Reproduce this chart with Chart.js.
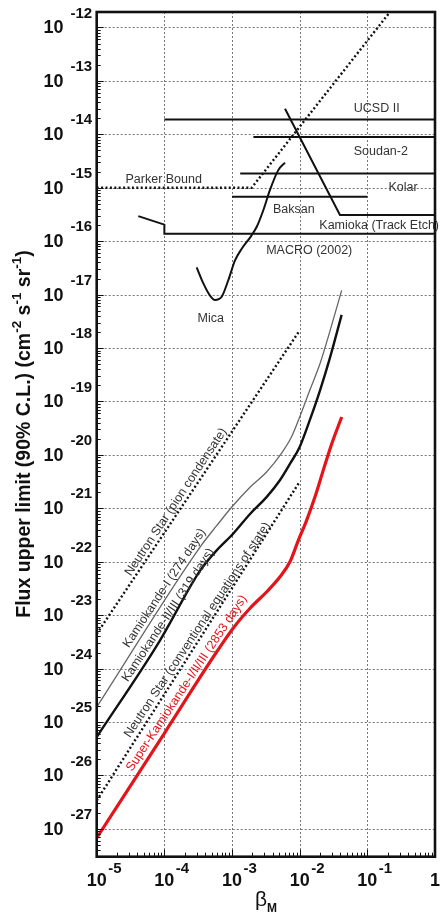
<!DOCTYPE html>
<html>
<head>
<meta charset="utf-8">
<script src="https://cdn.jsdelivr.net/npm/chart.js@4.4.1/dist/chart.umd.min.js"></script>
<style>
  html, body { margin: 0; padding: 0; background: #fff; }
  #wrap { width: 442px; height: 915px; position: relative; }
</style>
</head>
<body>
<div id="wrap"><canvas id="fluxChart"></canvas></div>
<script>
// decade ticks on both axes
const xTicks = [1e-5, 1e-4, 1e-3, 1e-2, 1e-1, 1];
const xTickExp = ['-5', '-4', '-3', '-2', '-1', ''];
const yTicks = [1e-12, 1e-13, 1e-14, 1e-15, 1e-16, 1e-17, 1e-18, 1e-19,
                1e-20, 1e-21, 1e-22, 1e-23, 1e-24, 1e-25, 1e-26, 1e-27];
const yTickExp = ['-12', '-13', '-14', '-15', '-16', '-17', '-18', '-19',
                  '-20', '-21', '-22', '-23', '-24', '-25', '-26', '-27'];

// earlier searches
const parkerX = [1e-5, 1.95e-3, 0.216];
const parkerY = [1e-15, 1e-15, 1.95e-12];
const ucsdX = [1e-4, 1];
const ucsdY = [1.9e-14, 1.9e-14];
const soudanX = [2.07e-3, 1];
const soudanY = [8.9e-15, 8.9e-15];
const kolarX = [1.32e-3, 1];
const kolarY = [1.86e-15, 1.86e-15];
const baksanX = [1e-3, 0.1];
const baksanY = [6.76e-16, 6.76e-16];
const kamiokaX = [6.07e-3, 3.94e-2, 1];
const kamiokaY = [3.02e-14, 3.09e-16, 3.09e-16];
const macroX = [4.12e-5, 1e-4, 1e-4, 1];
const macroY = [2.95e-16, 2.04e-16, 1.38e-16, 1.38e-16];
const micaX = [3.0e-4, 3.77e-4, 4.73e-4, 5.58e-4, 7.03e-4, 8.81e-4, 1.107e-3,
               1.39e-3, 1.845e-3, 2.32e-3, 2.90e-3, 3.64e-3, 4.83e-3, 6.07e-3];
const micaY = [3.24e-17, 1.62e-17, 9.55e-18, 7.94e-18, 9.12e-18, 1.86e-17, 4.37e-17,
               7.24e-17, 1.17e-16, 1.86e-16, 3.80e-16, 9.12e-16, 2.14e-15, 2.95e-15];

// neutron star bounds
const nsPionX = [1e-5, 1e-2];
const nsPionY = [4.47e-24, 2.14e-18];
const nsConvX = [1e-5, 1e-2];
const nsConvY = [3.39e-27, 3.16e-21];

// Kamiokande / Super-Kamiokande limits
const kam1X = [1e-5, 3.39e-4, 5.89e-4, 1e-3, 1.86e-3, 3.24e-3, 5.37e-3, 7.59e-3,
               1e-2, 1.41e-2, 2.0e-2, 2.82e-2, 4.17e-2];
const kam1Y = [1.91e-25, 1.91e-22, 4.68e-22, 1.07e-21, 2.51e-21, 4.79e-21, 1.07e-20, 2.19e-20,
               5.13e-20, 1.62e-19, 5.13e-19, 2.14e-18, 1.20e-17];
const kam23X = [1e-5, 8.63e-5, 2.40e-4, 3.39e-4, 5.89e-4, 1.047e-3, 1.86e-3, 3.24e-3,
                5.13e-3, 7.24e-3, 1e-2, 1.41e-2, 2.0e-2, 2.82e-2, 4.17e-2];
const kam23Y = [5.25e-26, 3.39e-24, 3.39e-23, 6.92e-23, 1.62e-22, 3.39e-22, 7.94e-22, 1.62e-21,
                3.39e-21, 6.92e-21, 1.41e-20, 4.47e-20, 1.62e-19, 6.76e-19, 4.17e-18];
const skX = [1e-5, 1e-4, 1.045e-3, 1.845e-3, 3.26e-3, 5.12e-3, 7.19e-3, 9.55e-3,
             1.27e-2, 1.69e-2, 2.24e-2, 2.98e-2, 4.18e-2];
const skY = [6.76e-28, 6.17e-26, 5.75e-24, 1.35e-23, 2.75e-23, 5.25e-23, 1.0e-22, 2.51e-22,
             6.03e-22, 1.66e-21, 5.25e-21, 1.62e-20, 5.13e-20];

const FONT = '"Liberation Sans", Arial, sans-serif';

function pts(xs, ys) {
    return xs.map((x, i) => ({ x: x, y: ys[i] }));
}

function series(xs, ys, style) {
    return Object.assign({
        data: pts(xs, ys),
        borderColor: '#111',
        borderWidth: 2,
        pointRadius: 0,
        fill: false,
        tension: 0
    }, style);
}

const dotted = { borderDash: [2, 2.4], borderWidth: 2.4, borderCapStyle: 'butt' };
const smooth = { cubicInterpolationMode: 'monotone' };

// plain text labels next to the lines
const textLabels = [
    { text: 'UCSD II', x: 376.7, y: 108.5 },
    { text: 'Soudan-2', x: 380.8, y: 152 },
    { text: 'Kolar', x: 403, y: 188 },
    { text: 'Parker Bound', x: 163.7, y: 180 },
    { text: 'Baksan', x: 293.8, y: 210 },
    { text: 'Kamioka (Track Etch)', x: 319.3, y: 226, align: 'left' },
    { text: 'MACRO (2002)', x: 309.2, y: 251 },
    { text: 'Mica', x: 210.8, y: 319 }
];
// labels running along the sloped curves
const slopedLabels = [
    { text: 'Neutron Star (pion condensate)', x: 176, y: 502, color: '#333' },
    { text: 'Kamiokande-I (274 days)', x: 164.5, y: 588, color: '#333' },
    { text: 'Kamiokande-II/III (319 days)', x: 168.3, y: 615, color: '#333' },
    { text: 'Neutron Star (conventional equations of state)', x: 197.5, y: 630, color: '#333' },
    { text: 'Super-Kamiokande-I/II/III (2853 days)', x: 186.7, y: 683.3, color: '#e3151b' }
];

const axesPlugin = {
    id: 'axesPlugin',
    beforeDatasetsDraw(chart) {
        const { ctx, chartArea: a, scales: { x, y } } = chart;
        ctx.save();
        ctx.strokeStyle = '#777';
        ctx.lineWidth = 1;
        ctx.setLineDash([2, 2]);
        xTicks.forEach(v => {
            const px = Math.round(x.getPixelForValue(v)) + 0.5;
            ctx.beginPath(); ctx.moveTo(px, a.top); ctx.lineTo(px, a.bottom); ctx.stroke();
        });
        yTicks.forEach(v => {
            const py = Math.round(y.getPixelForValue(v)) + 0.5;
            ctx.beginPath(); ctx.moveTo(a.left, py); ctx.lineTo(a.right, py); ctx.stroke();
        });
        ctx.restore();
    },
    afterDatasetsDraw(chart) {
        const { ctx, chartArea: a, scales: { x, y } } = chart;
        ctx.save();
        ctx.setLineDash([]);
        ctx.strokeStyle = '#111';

        // minor and major ticks, pointing inward
        ctx.lineWidth = 1;
        for (let d = -28; d <= -12; d++) {
            for (let m = 1; m <= 9; m++) {
                const v = m * Math.pow(10, d);
                if (v < y.min || v > y.max) continue;
                const py = Math.round(y.getPixelForValue(v)) + 0.5;
                const len = m === 1 ? 7 : 4;
                ctx.beginPath(); ctx.moveTo(a.left, py); ctx.lineTo(a.left + len, py); ctx.stroke();
            }
        }
        for (let d = -5; d <= 0; d++) {
            for (let m = 1; m <= 9; m++) {
                const v = m * Math.pow(10, d);
                if (v < x.min || v > x.max) continue;
                const px = Math.round(x.getPixelForValue(v)) + 0.5;
                const len = m === 1 ? 7 : 4;
                ctx.beginPath(); ctx.moveTo(px, a.bottom); ctx.lineTo(px, a.bottom - len); ctx.stroke();
            }
        }

        // frame
        ctx.lineWidth = 2.6;
        ctx.strokeRect(a.left, a.top, a.right - a.left, a.bottom - a.top);

        // y tick labels: 10 with exponent
        ctx.fillStyle = '#111';
        ctx.textBaseline = 'middle';
        yTicks.forEach((v, i) => {
            const py = y.getPixelForValue(v);
            ctx.font = 'bold 18px ' + FONT;
            ctx.textAlign = 'right';
            ctx.fillText('10', 63.5, py + 1);
            ctx.font = 'bold 15px ' + FONT;
            ctx.textAlign = 'left';
            ctx.fillText(yTickExp[i], 70.5, py - 14);
        });

        // x tick labels
        xTicks.forEach((v, i) => {
            const px = x.getPixelForValue(v);
            ctx.font = 'bold 18px ' + FONT;
            ctx.textAlign = 'center';
            if (xTickExp[i] === '') {
                ctx.fillText('1', px, 881);
                return;
            }
            ctx.fillText('10', px, 881);
            ctx.font = 'bold 15px ' + FONT;
            ctx.textAlign = 'left';
            ctx.fillText(xTickExp[i], px + 11.5, 869);
        });

        // x title: beta_M
        ctx.textBaseline = 'alphabetic';
        ctx.textAlign = 'left';
        ctx.font = '21px ' + FONT;
        ctx.fillText('\u03b2', 255, 906);
        ctx.font = 'bold 12px ' + FONT;
        ctx.fillText('M', 267, 912);

        // y title, rotated, with superscripts
        const parts = [
            ['Flux upper limit (90% C.L.) (cm', false], ['-2', true], [' s', false],
            ['-1', true], [' sr', false], ['-1', true], [')', false]
        ];
        const mainFont = 'bold 19.5px ' + FONT, supFont = 'bold 13.5px ' + FONT;
        let total = 0;
        parts.forEach(p => { ctx.font = p[1] ? supFont : mainFont; total += ctx.measureText(p[0]).width; });
        ctx.translate(30, 434);
        ctx.rotate(-Math.PI / 2);
        let cx = -total / 2;
        parts.forEach(p => {
            ctx.font = p[1] ? supFont : mainFont;
            ctx.fillText(p[0], cx, p[1] ? -9 : 0);
            cx += ctx.measureText(p[0]).width;
        });
        ctx.setTransform(1, 0, 0, 1, 0, 0);

        // line labels
        ctx.font = '12.5px ' + FONT;
        ctx.fillStyle = '#333';
        ctx.textBaseline = 'middle';
        textLabels.forEach(l => {
            ctx.textAlign = l.align || 'center';
            ctx.fillText(l.text, l.x, l.y);
        });
        ctx.textAlign = 'center';
        slopedLabels.forEach(l => {
            ctx.save();
            ctx.translate(l.x, l.y);
            ctx.rotate(-56.5 * Math.PI / 180);
            ctx.fillStyle = l.color;
            ctx.fillText(l.text, 0, 0);
            ctx.restore();
        });
        ctx.restore();
    }
};

const ctx = document.getElementById('fluxChart').getContext('2d');
const fluxChart = new Chart(ctx, {
    type: 'line',
    data: {
        datasets: [
            series(parkerX, parkerY, dotted),
            series(ucsdX, ucsdY, {}),
            series(soudanX, soudanY, {}),
            series(kolarX, kolarY, {}),
            series(baksanX, baksanY, {}),
            series(kamiokaX, kamiokaY, {}),
            series(macroX, macroY, {}),
            series(micaX, micaY, smooth),
            series(nsPionX, nsPionY, dotted),
            series(nsConvX, nsConvY, dotted),
            series(kam1X, kam1Y, Object.assign({ borderColor: '#666', borderWidth: 1.3 }, smooth)),
            series(kam23X, kam23Y, Object.assign({ borderWidth: 2.4 }, smooth)),
            series(skX, skY, Object.assign({ borderColor: '#e3151b', borderWidth: 3.2 }, smooth))
        ]
    },
    options: {
        responsive: true,
        maintainAspectRatio: false,
        animation: false,
        devicePixelRatio: 1,
        layout: { padding: { left: 96.7, right: 7, top: 12, bottom: 58.3 } },
        plugins: { legend: { display: false }, tooltip: { enabled: false } },
        scales: {
            x: { type: 'logarithmic', min: 1e-5, max: 1, display: false },
            y: { type: 'logarithmic', min: 3.02e-28, max: 1.95e-12, display: false }
        }
    },
    plugins: [axesPlugin]
});
</script>
</body>
</html>
